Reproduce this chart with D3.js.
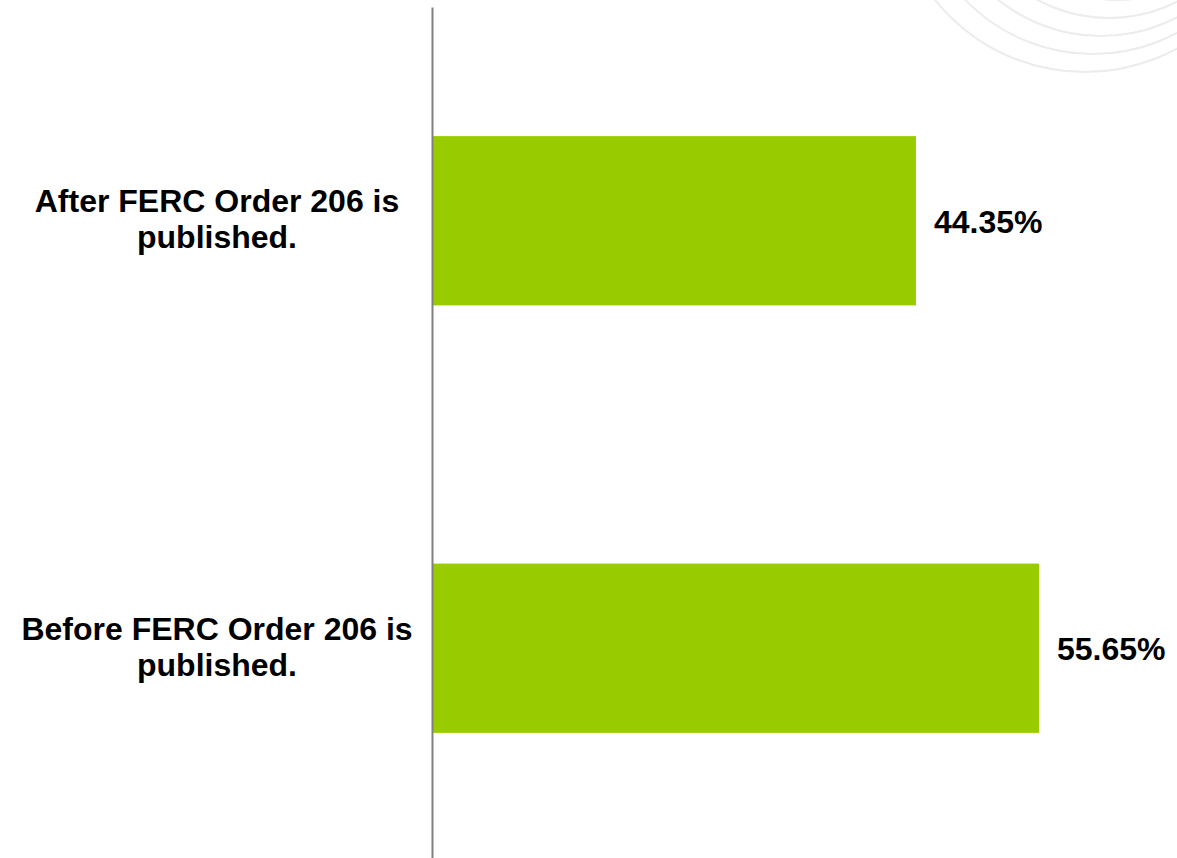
<!DOCTYPE html>
<html>
<head>
<meta charset="utf-8">
<script src="https://cdn.jsdelivr.net/npm/d3@7"></script>
<style>
    html, body { margin: 0; padding: 0; background: #fff; }
    svg { display: block; }
    text { font-family: "Liberation Sans", Arial, sans-serif; font-weight: bold; fill: #000; }
</style>
</head>
<body>
<svg></svg>
<script>
// data
var categories = ['After FERC Order 206 is published.', 'Before FERC Order 206 is published.'];
var categoryLines = [['After FERC Order 206 is', 'published.'], ['Before FERC Order 206 is', 'published.']];
var values = [44.35, 55.65];
var valueLabels = ['44.35%', '55.65%'];

var width = 1177, height = 858;

var svg = d3.select('svg')
    .attr('width', width)
    .attr('height', height);

// faint watermark arcs, top right corner
var deco = svg.append('g')
    .attr('fill', 'none')
    .attr('stroke', '#ececec')
    .attr('stroke-width', 2);
[192, 178, 164, 150, 136].forEach(function(r, i) {
    deco.append('circle')
        .attr('cx', 1085 + i * 8)
        .attr('cy', 72 - 192 - i * 4)
        .attr('r', r);
});

var x = d3.scaleLinear()
    .domain([0, 60])
    .range([433, 433 + 60 * 10.89]);

var y = d3.scaleBand()
    .domain(categories)
    .range([7, 862])
    .paddingInner(0.604)
    .paddingOuter(0.302);

// bars
svg.selectAll('rect.bar')
    .data(values)
    .enter()
    .append('rect')
    .classed('bar', true)
    .attr('x', x(0))
    .attr('y', function(d, i) { return y(categories[i]); })
    .attr('width', function(d) { return x(d) - x(0); })
    .attr('height', y.bandwidth())
    .attr('fill', '#99cc00');

// vertical axis line
var axis = svg.append('g')
    .attr('transform', 'translate(432,0)')
    .call(d3.axisLeft(y).tickSize(0).tickFormat(''));
axis.select('.domain')
    .attr('stroke', '#808080')
    .attr('stroke-width', 2);

// category labels
categories.forEach(function(c, i) {
    var cy = y(c) + y.bandwidth() / 2;
    var t = svg.append('text')
        .attr('text-anchor', 'middle')
        .attr('font-size', 32);
    categoryLines[i].forEach(function(line, j) {
        t.append('tspan')
            .attr('x', 217)
            .attr('y', cy - 8.5 + j * 36)
            .text(line);
    });
});

// value labels
svg.selectAll('text.val')
    .data(values)
    .enter()
    .append('text')
    .classed('val', true)
    .attr('font-size', 32)
    .attr('x', function(d) { return x(d) + 18; })
    .attr('y', function(d, i) { return y(categories[i]) + y.bandwidth() / 2 + 12; })
    .text(function(d, i) { return valueLabels[i]; });
</script>
</body>
</html>
